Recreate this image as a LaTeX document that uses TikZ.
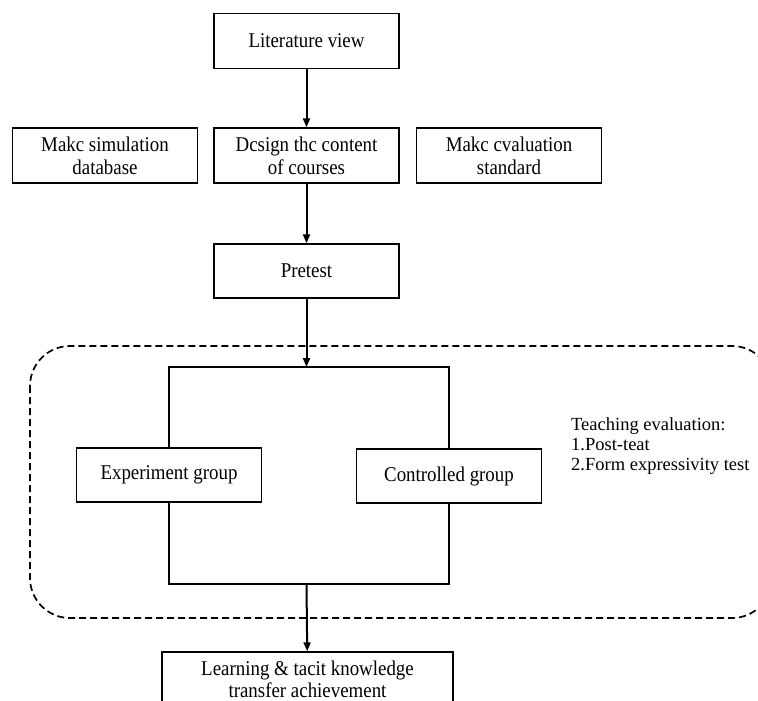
\documentclass[tikz,border=0pt]{standalone}
\usepackage{fontspec}
\setmainfont{Liberation Serif}[FakeStretch=0.9]
\newfontfamily\evalfont{Liberation Serif}
\usetikzlibrary{arrows.meta,calc,positioning}

\begin{document}
\begin{tikzpicture}[x=1pt,y=-1pt,
  box/.style={draw,line width=1.4pt,minimum width=185pt,minimum height=55pt,inner sep=0pt,align=center,font=\fontsize{21}{23}\selectfont},
  conn/.style={line width=2pt},
  arr/.style={conn,-{Triangle[length=9pt,width=7pt]}}]
\useasboundingbox (0,0) rectangle (758,701);
% evaluation frame
\draw[line width=1.7pt,dash pattern=on 7pt off 4pt,rounded corners=40pt] (30,346) rectangle (772,618);
\node[box] (lit) at (306.5,41) {Literature view};
\node[box] (sim) at (105,155.5) {Makc simulation\\database};
\node[box] (design) at (306.5,155.5) {Dcsign thc content\\of courses};
\node[box] (std) at (509,155.5) {Makc cvaluation\\standard};
\node[box,minimum height=54pt] (pre) at (306.5,271) {Pretest};
\node[box,minimum height=54pt] (exp) at (169,475) {Experiment group};
\node[box,minimum height=54pt] (ctl) at (449,476) {Controlled group};
\node[box,minimum width=291pt,minimum height=56pt,font=\fontsize{21}{22}\selectfont] (out) at (307.5,680) {Learning \& tacit knowledge\\transfer achievement\rule[-1pt]{0pt}{0pt}\vspace{1.5pt}};
\node[anchor=west,align=left,inner sep=0pt,font=\evalfont\fontsize{18.5}{20}\selectfont] (eval) at (571,446) {Teaching evaluation:\\1.Post-teat\\2.Form expressivity test};
\coordinate (split) at (306.5,367);
\coordinate (join) at (306.5,584);
\draw[arr] (lit) -- (design);
\draw[arr] (design) -- (pre);
\draw[arr] (pre) -- (split);
\draw[conn] (exp.north) |- (split) -| (ctl.north);
\draw[conn] (exp.south) |- (join) -| (ctl.south);
\draw[arr] (join) -- (out);
\end{tikzpicture}
\end{document}
